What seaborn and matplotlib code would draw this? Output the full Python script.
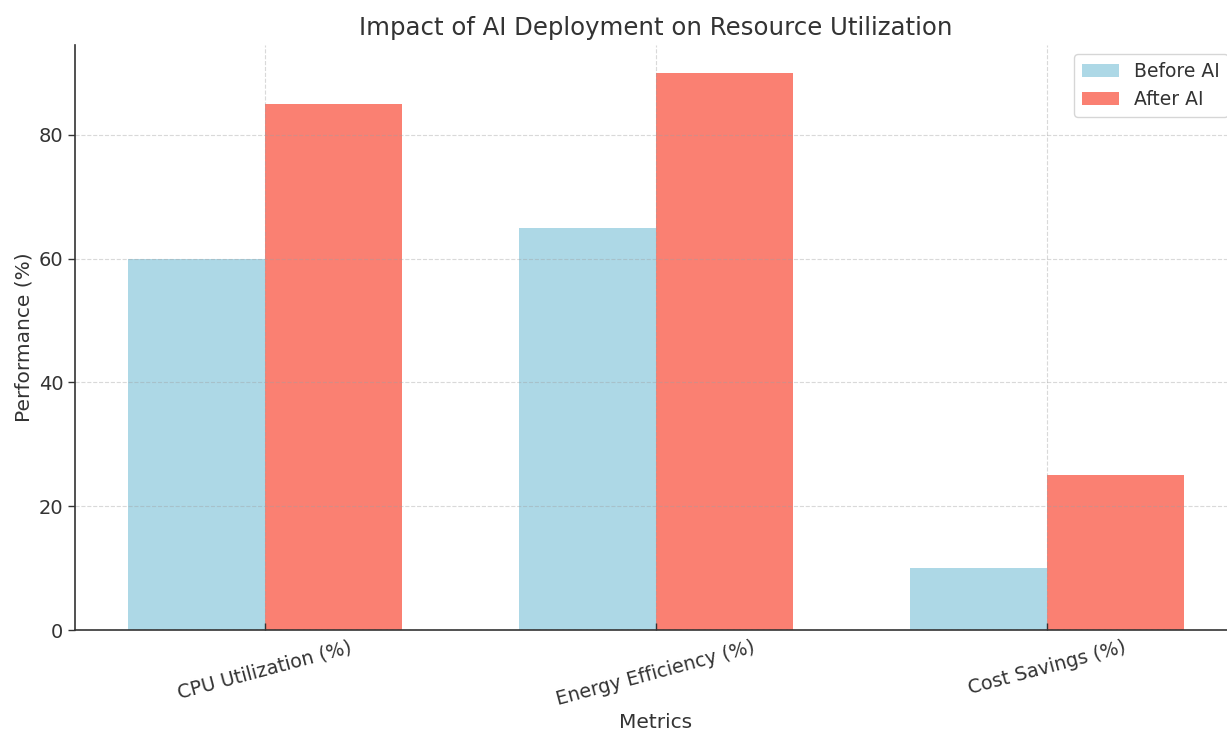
import matplotlib
matplotlib.use("Agg")
import matplotlib.pyplot as plt
import seaborn as sns
import pandas as pd

metrics = ["CPU Utilization (%)", "Energy Efficiency (%)", "Cost Savings (%)"]
before_ai = [60, 65, 10]
after_ai = [85, 90, 25]
series_names = ["Before AI", "After AI"]
palette = ["lightblue", "salmon"]

df = pd.DataFrame({
    "Metrics": metrics * 2,
    "Performance (%)": before_ai + after_ai,
    "Stage": [series_names[0]] * len(metrics) + [series_names[1]] * len(metrics),
})

sns.set_theme(style="white")
text_color = "#333333"
plt.rcParams.update({
    "font.family": ["DejaVu Sans"],
    "text.color": text_color,
    "axes.labelcolor": text_color,
    "xtick.color": text_color,
    "ytick.color": text_color,
    "axes.edgecolor": text_color,
})

fig = plt.figure(figsize=(12.27, 7.31), dpi=100)
ax = fig.add_axes([75 / 1227, 1 - 630 / 731, (1237 - 75) / 1227, (630 - 45) / 731])

sns.barplot(data=df, x="Metrics", y="Performance (%)", hue="Stage",
            palette=palette, width=0.7, gap=0, saturation=1,
            edgecolor="none", ax=ax)

ax.set_xlim(-0.485, 2.485)
ax.set_ylim(0, 94.5)
ax.set_yticks([0, 20, 40, 60, 80])

ax.set_axisbelow(False)
ax.grid(True, linestyle="--", color="#a0a0a0", alpha=0.4, linewidth=0.8)

for side in ["top", "right"]:
    ax.spines[side].set_visible(False)
for side in ["left", "bottom"]:
    ax.spines[side].set_linewidth(1.2)

ax.tick_params(axis="y", direction="out", length=5, width=1, labelsize=14, left=True)
ax.tick_params(axis="x", direction="in", length=5, width=1, labelsize=13.8,
               bottom=True, pad=5.5)
plt.setp(ax.get_xticklabels(), rotation=15)

ax.set_title("Impact of AI Deployment on Resource Utilization", fontsize=17.6,
             color=text_color, pad=7)
ax.set_xlabel("Metrics", fontsize=14.5)
ax.xaxis.set_label_coords(0.5, -0.142)
ax.set_ylabel("Performance (%)", fontsize=14.5)

leg = ax.legend(loc="upper right", fontsize=13.5, frameon=True, fancybox=True,
                edgecolor="#cccccc", title=None)

fig.savefig("out.png", dpi=100)
